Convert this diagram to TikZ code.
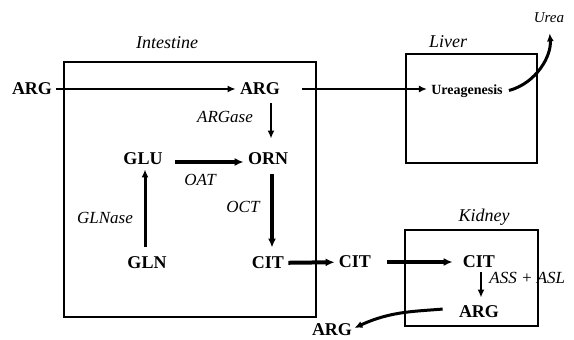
\documentclass[tikz,border=0pt]{standalone}
\usepackage{fontspec}
\setmainfont{Liberation Serif}
\usetikzlibrary{positioning,arrows.meta}

\begin{document}
\begin{tikzpicture}[
    x=0.5pt, y=0.5pt,
    metab/.style={font=\bfseries\fontsize{9}{10}\selectfont, inner sep=2pt},
    enzyme/.style={font=\itshape\fontsize{8.5}{10}\selectfont, inner sep=1pt},
    organ/.style={font=\itshape\fontsize{9}{10}\selectfont, inner sep=1pt},
    flux/.style={-{Latex[length=4pt,width=3.5pt]}, line width=1pt},
    bigflux/.style={-{Latex[length=4.5pt,width=4pt]}, line width=2pt}
]
\useasboundingbox (0,0) rectangle (574,339);

% organ boxes
\draw[line width=0.8pt] (64,22) rectangle (316,277);
\draw[line width=0.8pt] (406,176) rectangle (537,285);
\draw[line width=0.8pt] (405,13) rectangle (538,109);
\node[organ] (intestine) at (167,296) {Intestine};
\node[organ] (liver) at (448,297) {Liver};
\node[organ] (kidney) at (484,122) {Kidney};

% metabolites
\node[metab] (argout) at (32,250) {ARG};
\node[metab] (argin) at (260,250) {ARG};
\node[metab] (glu) at (143,180) {GLU};
\node[metab] (orn) at (268,180) {ORN};
\node[metab] (gln) at (147,76) {GLN};
\node[metab] (citin) at (268,76) {CIT};
\node[metab] (citmid) at (355,77) {CIT};
\node[metab] (citk) at (479,77) {CIT};
\node[metab] (argk) at (479,27) {ARG};
\node[metab, inner sep=1pt] (argbot) at (332,9) {ARG};
\node[metab, font=\bfseries\fontsize{7}{8}\selectfont] (ugen) at (467,248) {Ureagenesis};
\node[enzyme, font=\itshape\fontsize{7.5}{8}\selectfont] (urea) at (549,321) {Urea};

% enzymes
\node[enzyme] (argase) at (225,222) {ARGase};
\node[enzyme] (oat) at (200,159) {OAT};
\node[enzyme] (glnase) at (105,121) {GLNase};
\node[enzyme] (oct) at (243,132) {OCT};
\node[enzyme, anchor=west] (assasl) at (487,61) {ASS + ASL};

% fluxes
\draw[flux] (argout) -- (argin);
\draw[flux, shorten <=9pt] (argin) -- (argin -| ugen.west);
\draw[flux, line width=1.5pt, shorten >=4pt, shorten <=1pt] (ugen.east) to[out=15,in=-85] (urea.south);
\draw[flux, shorten <=2pt, shorten >=5pt] ([xshift=5.5pt]argin.south) -- ([xshift=1.5pt]orn.north);
\draw[bigflux, shorten <=4pt] ([yshift=-1.5pt]glu.east) -- ([yshift=-1.5pt]orn.west);
\draw[flux, line width=1.5pt, shorten <=3pt] ([xshift=-1pt]gln.north) -- ([xshift=1pt]glu.south);
\draw[bigflux, shorten <=2.5pt, shorten >=2.5pt] ([xshift=2pt]orn.south) -- ([xshift=2pt]citin.north);
\draw[bigflux] (citin) -- (citmid);
\draw[bigflux, shorten <=6pt, shorten >=3pt] (citmid) -- (citk);
\draw[flux, line width=1.2pt, shorten >=2pt] ([xshift=1pt]citk.south) -- ([xshift=1pt]argk.north);
\draw[flux, line width=1.5pt, shorten <=6pt] ([yshift=2pt]argk.west) to[out=185,in=25] ([yshift=1pt]argbot.east);
\end{tikzpicture}
\end{document}
